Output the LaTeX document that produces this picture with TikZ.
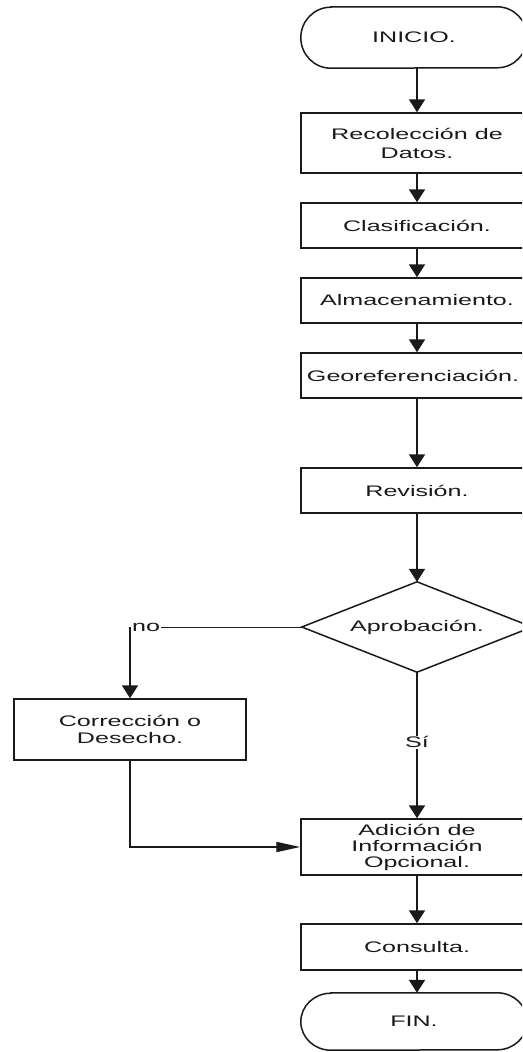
\documentclass[tikz,border=0pt]{standalone}
\usepackage{fontspec}
\setmainfont{Liberation Sans}[FakeStretch=1.64]
\usetikzlibrary{arrows.meta}
\definecolor{ink}{HTML}{1A1A1A}

% outline of a terminal (start/end) node: flat top and bottom, elliptic ends
\newcommand\terminaloutline[3]{%
  \draw[ink, line width=1.5pt]
    ([xshift=#2]#1.north west) -- ([xshift=-#2]#1.north east)
    arc[start angle=90, end angle=-90, x radius=#2, y radius=#3]
    -- ([xshift=#2]#1.south west)
    arc[start angle=270, end angle=90, x radius=#2, y radius=#3] -- cycle;}

\begin{document}
\begin{tikzpicture}[x=1pt, y=-1pt,
  every node/.style={font=\fontsize{15.3}{17}\selectfont, text=ink},
  box/.style={draw=ink, line width=1.5pt, minimum width=232pt, inner sep=0pt, align=center},
  flow/.style={draw=ink, line width=2pt, -{Triangle[width=16pt,length=13pt]}},
  sideflow/.style={draw=ink, line width=2pt, -{Triangle[width=10pt,length=24pt]}},
  lbl/.style={fill=white, inner sep=1pt},
]
\useasboundingbox (0,0) rectangle (522,1052);
\clip (0,0) rectangle (522,1052);
\fill[white] (0,0) rectangle (522,1052);

% main column
\node[minimum width=226pt, minimum height=61pt, inner sep=0pt] (ini) at (414,37.5) {INICIO.};
\terminaloutline{ini}{30pt}{30.5pt}

\node[box, minimum height=60pt, font=\fontsize{15.3}{19}\selectfont] (rec) at (417,143)
  {Recolección de\\Datos.};
\node[box, minimum height=45pt] (cla) at (417,225.5) {Clasificación.};
\node[box, minimum height=45pt] (alm) at (417,300.5) {Almacenamiento.};
% the long label sits a little left of the box centre
\node[box, minimum height=45pt] (geo) at (417,375.5) {Georeferenciación.\kern8pt};
\node[box, minimum height=45pt] (rev) at (417,490.5) {Revisión.};

% decision
\node[minimum width=230pt, minimum height=90pt, inner sep=0pt] (dia) at (417,627) {Aprobación.};
\draw[ink, line width=1.5pt] (dia.north) -- (dia.east) -- (dia.south) -- (dia.west) -- cycle;

% side branch
\node[box, minimum height=61pt] (cor) at (130,729.5) {Corrección o\\Desecho.};

\node[box, minimum height=56pt, font=\fontsize{15.3}{16}\selectfont] (adi) at (417,847)
  {Adición de\\Información\\Opcional.};
\node[box, minimum height=46pt] (con) at (417,947) {Consulta.};

\node[minimum width=226pt, minimum height=57pt, inner sep=0pt] (fin) at (414,1021.5) {FIN.};
\terminaloutline{fin}{30pt}{28.5pt}

% connectors
\draw[flow] (ini.south -| rec.north) -- (rec.north);
\draw[flow] (rec.south) -- (cla.north);
\draw[flow] (cla.south) -- (alm.north);
\draw[flow] (alm.south) -- (geo.north);
\draw[flow] (geo.south) -- (rev.north);
\draw[flow] (rev.south) -- (dia.north);

\draw[ink, line width=1pt] (dia.west) -- (cor.north |- dia.west) coordinate (nocorner);
\draw[flow] (nocorner) -- (cor.north);
\node[lbl, anchor=west] at ([xshift=1pt]nocorner) {no};

\draw[flow] (dia.south) -- node[lbl, pos=0.48] {Sí} (adi.north);
\draw[sideflow] (cor.south) |- (adi.west);
\draw[flow] (adi.south) -- (con.north);
\draw[flow] (con.south) -- (con.south |- fin.north);
\end{tikzpicture}
\end{document}
